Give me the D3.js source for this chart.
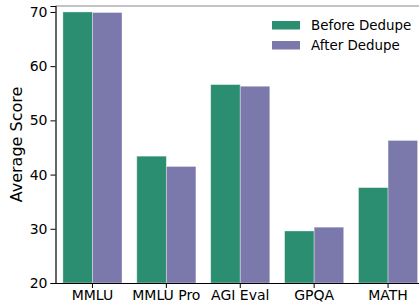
<!DOCTYPE html>
<html lang="en">
<head>
    <meta charset="UTF-8">
    <title>Average Score</title>
    <script src="https://d3js.org/d3.v7.min.js"></script>
    <style>
        body { margin: 0; background: #fff; }
        text { font-family: "DejaVu Sans", sans-serif; fill: #000; }
    </style>
</head>
<body>
    <script>
        var categories = ["MMLU", "MMLU Pro", "AGI Eval", "GPQA", "MATH"];
        var series = ["Before Dedupe", "After Dedupe"];
        var before = [70.0, 43.4, 56.6, 29.6, 37.6];
        var after = [69.9, 41.5, 56.3, 30.3, 46.3];
        var yTicks = [20, 30, 40, 50, 60, 70];
        var colors = ["#2c8e70", "#7b78ab"];

        var width = 419, height = 303;
        var plotLeft = 55.5, plotBottom = 283, plotTop = 6, plotRight = 425;

        var svg = d3.select("body")
            .append("svg")
            .attr("width", width)
            .attr("height", height);

        var x = d3.scaleBand()
            .domain(categories)
            .range([plotLeft, plotRight])
            .paddingInner(0.2)
            .paddingOuter(0.1);

        var x1 = d3.scaleBand()
            .domain(series)
            .range([0, x.bandwidth()]);

        var y = d3.scaleLinear()
            .domain([20, 71.1])
            .range([plotBottom, plotTop]);

        var rows = [];
        for (var i = 0; i < categories.length; i++) {
            rows.push({ cat: categories[i], s: series[0], v: before[i], c: colors[0] });
            rows.push({ cat: categories[i], s: series[1], v: after[i], c: colors[1] });
        }

        svg.selectAll("rect.bar")
            .data(rows)
            .enter()
            .append("rect")
            .attr("class", "bar")
            .attr("x", function (d) { return x(d.cat) + x1(d.s); })
            .attr("y", function (d) { return y(d.v); })
            .attr("width", x1.bandwidth())
            .attr("height", function (d) { return y(20) - y(d.v); })
            .attr("fill", function (d) { return d.c; })
            .attr("stroke", "rgba(255,255,255,0.45)")
            .attr("stroke-width", 0.8);

        // top spine (gray)
        svg.append("line")
            .attr("x1", plotLeft).attr("x2", width)
            .attr("y1", plotTop).attr("y2", plotTop)
            .attr("stroke", "#8a8a8a")
            .attr("stroke-width", 1.2);

        var yAxis = svg.append("g")
            .attr("transform", "translate(" + plotLeft + ",0)")
            .call(d3.axisLeft(y).tickValues(yTicks).tickSize(5).tickPadding(3));
        yAxis.select(".domain").attr("stroke", "#000").attr("stroke-width", 1.2);
        yAxis.selectAll("text").style("font-size", "14px");

        var xAxis = svg.append("g")
            .attr("transform", "translate(0," + plotBottom + ")")
            .call(d3.axisBottom(x).tickSize(5).tickPadding(2).tickSizeOuter(0));
        xAxis.select(".domain").attr("stroke", "#000").attr("stroke-width", 1.2);
        xAxis.selectAll("text").style("font-size", "14px");

        svg.append("text")
            .attr("transform", "translate(22," + ((plotTop + plotBottom) / 2) + ") rotate(-90)")
            .attr("text-anchor", "middle")
            .style("font-size", "16px")
            .text("Average Score");

        var legend = svg.append("g")
            .attr("transform", "translate(272,21)");
        series.forEach(function (s, i) {
            legend.append("rect")
                .attr("x", 0).attr("y", i * 20)
                .attr("width", 28).attr("height", 8.5)
                .attr("fill", colors[i]);
            legend.append("text")
                .attr("x", 39).attr("y", i * 20 + 4.5)
                .attr("dy", "0.35em")
                .style("font-size", "13.4px")
                .text(s);
        });
    </script>
</body>
</html>
